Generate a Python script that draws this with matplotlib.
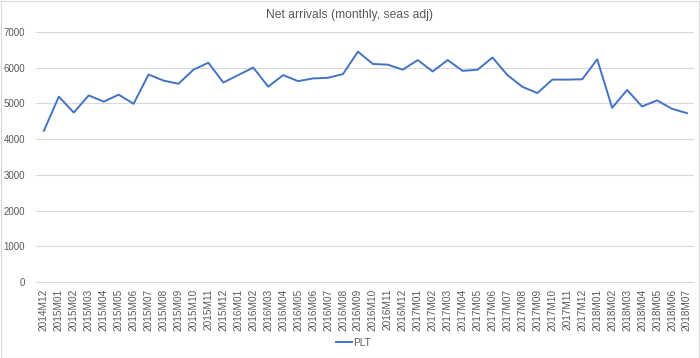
import matplotlib
matplotlib.use("Agg")
from matplotlib import pyplot as plt
from matplotlib.patches import Rectangle

plt.rcParams['font.family'] = ['Liberation Sans', 'DejaVu Sans']

months = ["2014M12",
          "2015M01", "2015M02", "2015M03", "2015M04", "2015M05", "2015M06",
          "2015M07", "2015M08", "2015M09", "2015M10", "2015M11", "2015M12",
          "2016M01", "2016M02", "2016M03", "2016M04", "2016M05", "2016M06",
          "2016M07", "2016M08", "2016M09", "2016M10", "2016M11", "2016M12",
          "2017M01", "2017M02", "2017M03", "2017M04", "2017M05", "2017M06",
          "2017M07", "2017M08", "2017M09", "2017M10", "2017M11", "2017M12",
          "2018M01", "2018M02", "2018M03", "2018M04", "2018M05", "2018M06",
          "2018M07"]
plt_values = [4235,
              5190, 4745, 5225, 5050, 5245, 4990,
              5810, 5640, 5550, 5945, 6140, 5585,
              5795, 6005, 5470, 5793, 5624, 5700,
              5718, 5822, 6450, 6105, 6085, 5945,
              6215, 5895, 6215, 5912, 5944, 6285,
              5793, 5465, 5290, 5667, 5667, 5676,
              6235, 4878, 5376, 4915, 5085, 4850,
              4728]
yticks = [0, 1000, 2000, 3000, 4000, 5000, 6000, 7000]

txt = "#595959"
fig = plt.figure(figsize=(7, 3.58), dpi=100)
fig.patches.append(Rectangle((0.001, 0.001), 0.998, 0.997, transform=fig.transFigure,
                             fill=False, edgecolor="#D9D9D9", linewidth=0.8))
ax = fig.add_axes([0.052, 0.2123, 0.940, 0.6983])

x = list(range(len(months)))
ax.plot(x, plt_values, color="#4472C4", linewidth=1.4, label="PLT")

ax.set_xlim(-0.5, len(months) - 0.5)
ax.set_ylim(0, 7000)
ax.set_yticks(yticks)
ax.set_xticks(x)
ax.set_xticklabels(months, rotation=90, fontsize=7.2, color=txt)
ax.tick_params(axis="y", labelsize=7, colors=txt, length=0, pad=8)
ax.tick_params(axis="x", length=0, pad=5)
ax.grid(axis="y", color="#D9D9D9", linewidth=0.8)
ax.set_axisbelow(True)
for s in ["top", "right", "left"]:
    ax.spines[s].set_visible(False)
ax.spines["bottom"].set_color("#D9D9D9")
ax.spines["bottom"].set_linewidth(0.8)

fig.text(0.5, 0.958, "Net arrivals (monthly, seas adj)", ha="center", va="center",
         fontsize=8.7, color=txt)
fig.legend(loc="center", bbox_to_anchor=(0.505, 0.042), frameon=False, fontsize=7.2,
           labelcolor=txt, handlelength=1.6, handletextpad=0.2)

fig.savefig("out.png", dpi=100)
